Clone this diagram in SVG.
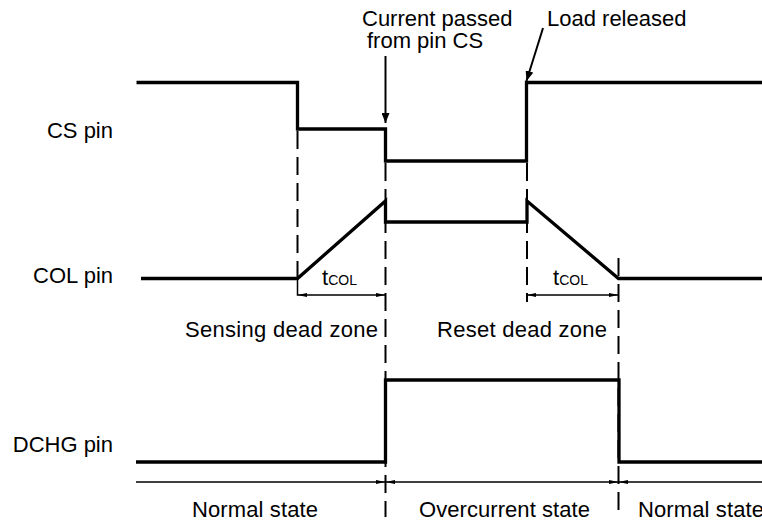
<svg xmlns="http://www.w3.org/2000/svg" width="762" height="521" viewBox="0 0 762 521">
<defs>
<style>
.lbl{font-family:"Liberation Sans",Arial,Helvetica,sans-serif;font-size:22px;fill:#000}
.sub{font-size:14px}
.sig{fill:none;stroke:#000;stroke-width:3.3;stroke-linejoin:miter;stroke-linecap:butt}
.dash{fill:none;stroke:#000;stroke-width:2;stroke-dasharray:18 8}
.thin{fill:none;stroke:#000;stroke-width:1.5}
.call{fill:none;stroke:#000;stroke-width:2}
.tip{fill:#000}
</style>
<marker id="arr" viewBox="0 0 10 8" refX="10" refY="4" markerWidth="10" markerHeight="8" markerUnits="userSpaceOnUse" orient="auto">
<path d="M0,0 L10,4 L0,8 Z" fill="#000"/>
</marker>
</defs>
<rect width="762" height="521" fill="#fff"/>

<g id="cs-pin">
<text class="lbl" x="113" y="138" text-anchor="end">CS pin</text>
<path class="sig" d="M136.5,82.5 H297.5 V129 H385.5 V161 H526.5 V82.5 H762"/>
</g>

<g id="col-pin">
<text class="lbl" x="113" y="283" text-anchor="end">COL pin</text>
<path class="sig" d="M141,278.5 H297.5 L385.5,201 V222 H527 V201 L618.5,278.5 H762"/>
</g>

<g id="dchg-pin">
<text class="lbl" x="113" y="452" text-anchor="end">DCHG pin</text>
<path class="sig" d="M136,462 H385.5 V380 H619 V462 H762"/>
</g>

<g id="connectors">
<line class="call" x1="385.5" y1="56" x2="385.5" y2="123" marker-end="url(#arr)"/>
<line class="call" x1="543" y1="28" x2="526.5" y2="81" marker-end="url(#arr)"/>
<line class="dash" x1="297.5" y1="131" x2="297.5" y2="278"/>
<line class="dash" x1="385.5" y1="163" x2="385.5" y2="517"/>
<line class="dash" x1="527" y1="163" x2="527" y2="302"/>
<line class="dash" x1="618.5" y1="258" x2="618.5" y2="517"/>
</g>

<g id="tcol-sensing">
<path class="thin" d="M297.5,278 V295 H385.5"/>
<path class="tip" d="M297.5,295 L307,293 L307,297 Z"/>
<path class="tip" d="M385.5,295 L376,293 L376,297 Z"/>
<text class="lbl" x="322" y="285">t<tspan class="sub">COL</tspan></text>
</g>

<g id="tcol-reset">
<path class="thin" d="M527,295 H618.5"/>
<path class="tip" d="M527,295 L536,293 L536,297 Z"/>
<path class="tip" d="M618.5,295 L609,293 L609,297 Z"/>
<text class="lbl" x="553" y="285">t<tspan class="sub">COL</tspan></text>
</g>

<g id="state-axis">
<line class="thin" x1="136" y1="482" x2="762" y2="482"/>
<path class="tip" d="M385.5,482 L376,480 L376,484 Z"/>
<path class="tip" d="M385.5,482 L395,480 L395,484 Z"/>
<path class="tip" d="M618.5,482 L609,480 L609,484 Z"/>
<path class="tip" d="M618.5,482 L628,480 L628,484 Z"/>
</g>

<g id="texts">
<text class="lbl" x="362" y="26">Current passed</text>
<text class="lbl" x="367" y="48">from pin CS</text>
<text class="lbl" x="547" y="26">Load released</text>
<text class="lbl" x="185" y="337" textLength="193">Sensing dead zone</text>
<text class="lbl" x="437" y="337" textLength="170">Reset dead zone</text>
<text class="lbl" x="192" y="517" textLength="126">Normal state</text>
<text class="lbl" x="419" y="517" textLength="171">Overcurrent state</text>
<text class="lbl" x="638" y="517" textLength="126">Normal state</text>
</g>
</svg>
